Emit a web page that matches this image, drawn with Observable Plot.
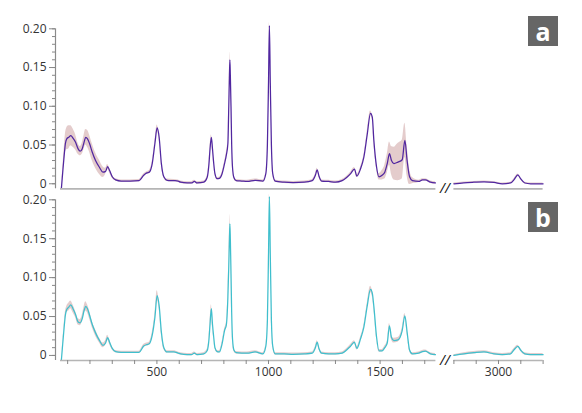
<!DOCTYPE html>
<html><head><meta charset="utf-8">
<script src="https://cdn.jsdelivr.net/npm/d3@7"></script>
<script src="https://cdn.jsdelivr.net/npm/@observablehq/plot@0.6"></script>
<style>
body{margin:0;background:#fff;}
#wrap{position:relative;width:582px;height:413px;font-family:"Open Sans",sans-serif;}
.panel-label{position:absolute;width:30px;height:30px;background:#666;color:#fff;font:bold 25px "Open Sans",sans-serif;display:flex;align-items:center;justify-content:center;line-height:1;}
svg{display:block}
</style></head><body><div id="wrap"></div>
<script>
const wavenumber = [
72,78,84,90,96,105,114,124,135,147,
156,165,174,181,189,198,210,225,243,258,
270,279,288,300,315,340,380,420,441,455,
466,479,491,501,510,520,531,546,576,595,
606,636,655,668,680,710,725,733,738,744,
749,754,760,770,780,792,803,811,818,822,
825,827,829,832,835,839,845,855,880,905,
940,975,988,995,1000,1004,1008,1013,1019,1030,
1070,1110,1160,1196,1210,1218,1226,1238,1270,1300,
1330,1350,1368,1385,1396,1412,1427,1442,1457,1465,
1472,1484,1495,1509,1521,1532,1542,1551,1562,1580,
1599,1611,1621,1632,1645,1673,1690,1703,1726,1748,
2800,2845,2890,2935,2980,3017,3054,3069,3087,3099,
3118,3144,3200];

const meanA = [
-0.006,0.015,0.035,0.052,0.058,0.060,0.062,0.059,0.054,0.045,
0.042,0.045,0.054,0.060,0.058,0.052,0.041,0.030,0.021,0.015,
0.016,0.022,0.017,0.009,0.005,0.0035,0.0035,0.004,0.011,0.014,
0.015,0.026,0.052,0.072,0.060,0.026,0.009,0.0045,0.004,0.0035,
0.002,0.001,0.001,0.003,0.001,0.002,0.008,0.025,0.045,0.060,
0.045,0.028,0.013,0.0065,0.007,0.013,0.026,0.037,0.052,0.100,
0.140,0.160,0.140,0.100,0.050,0.020,0.008,0.004,0.0035,0.003,
0.0045,0.0035,0.013,0.050,0.130,0.204,0.130,0.050,0.013,0.0035,
0.002,0.0015,0.002,0.004,0.011,0.018,0.010,0.0035,0.003,0.002,
0.004,0.008,0.013,0.019,0.010,0.019,0.034,0.063,0.091,0.086,
0.056,0.022,0.009,0.011,0.015,0.026,0.039,0.030,0.026,0.028,
0.031,0.056,0.030,0.009,0.004,0.003,0.005,0.005,0.002,0.001,
0,0.0013,0.002,0.0025,0.0017,0,0.001,0.005,0.0115,0.0065,
0.001,0,0];

const sdA = [
0.001,0.004,0.008,0.012,0.014,0.015,0.013,0.012,0.010,0.007,
0.006,0.007,0.009,0.010,0.011,0.011,0.011,0.010,0.009,0.007,
0.004,0.003,0.003,0.002,0.0015,0.0015,0.0015,0.0015,0.0015,0.0015,
0.002,0.002,0.003,0.004,0.003,0.002,0.0015,0.0015,0.0015,0.0015,
0.0015,0.0015,0.0015,0.0015,0.0015,0.0015,0.0015,0.002,0.003,0.003,
0.003,0.002,0.0015,0.0015,0.0015,0.002,0.002,0.003,0.004,0.006,
0.008,0.010,0.008,0.006,0.004,0.002,0.0015,0.0015,0.0015,0.0015,
0.0015,0.0015,0.0015,0.003,0.004,0.004,0.004,0.003,0.0015,0.0015,
0.0015,0.0015,0.0015,0.0015,0.0015,0.002,0.0015,0.0015,0.0015,0.0015,
0.0015,0.0015,0.002,0.002,0.002,0.002,0.002,0.003,0.003,0.003,
0.003,0.002,0.004,0.006,0.009,0.012,0.015,0.018,0.021,0.024,
0.025,0.022,0.020,0.010,0.004,0.0015,0.0015,0.0015,0.0015,0.0015,
0.001,0.001,0.001,0.001,0.001,0.001,0.001,0.001,0.001,0.001,
0.001,0.001,0.001];

const meanB = [
-0.006,0.015,0.035,0.052,0.059,0.062,0.065,0.060,0.053,0.043,
0.042,0.047,0.058,0.063,0.060,0.052,0.040,0.029,0.019,0.013,
0.016,0.023,0.017,0.009,0.005,0.004,0.004,0.004,0.012,0.014,
0.015,0.026,0.049,0.077,0.064,0.030,0.010,0.0045,0.0045,0.003,
0.002,0.001,0.001,0.003,0.001,0.002,0.006,0.020,0.040,0.060,
0.040,0.025,0.010,0.005,0.0045,0.015,0.032,0.039,0.075,0.115,
0.150,0.169,0.150,0.105,0.055,0.020,0.007,0.0035,0.003,0.003,
0.0045,0.002,0.012,0.045,0.130,0.204,0.130,0.045,0.012,0.002,
0.002,0.0015,0.002,0.003,0.010,0.017,0.009,0.003,0.002,0.002,
0.003,0.007,0.012,0.017,0.009,0.021,0.036,0.063,0.085,0.080,
0.063,0.024,0.006,0.006,0.010,0.016,0.038,0.023,0.019,0.020,
0.032,0.051,0.030,0.007,0.002,0.003,0.005,0.0055,0.002,0.001,
0,0.002,0.0035,0.0045,0.002,0.001,0.002,0.007,0.0116,0.007,
0.002,0.001,0.001];

const sdB = [
0.001,0.002,0.003,0.004,0.004,0.005,0.005,0.005,0.004,0.004,
0.004,0.004,0.005,0.006,0.005,0.005,0.004,0.004,0.003,0.003,
0.003,0.003,0.003,0.002,0.0015,0.0015,0.0015,0.0015,0.002,0.002,
0.002,0.003,0.004,0.006,0.004,0.003,0.002,0.0015,0.0015,0.0015,
0.0015,0.0015,0.0015,0.0015,0.0015,0.0015,0.0015,0.002,0.004,0.005,
0.004,0.002,0.0015,0.0015,0.0015,0.002,0.002,0.003,0.005,0.008,
0.010,0.012,0.010,0.008,0.005,0.002,0.0015,0.0015,0.0015,0.0015,
0.0015,0.0015,0.0015,0.002,0.003,0.003,0.003,0.002,0.0015,0.0015,
0.0015,0.0015,0.0015,0.0015,0.0015,0.002,0.0015,0.0015,0.0015,0.0015,
0.0015,0.0015,0.002,0.002,0.002,0.002,0.002,0.003,0.004,0.004,
0.003,0.002,0.0015,0.0015,0.002,0.002,0.003,0.003,0.003,0.003,
0.003,0.003,0.002,0.0015,0.0015,0.0015,0.0015,0.0015,0.0015,0.0015,
0.001,0.0015,0.0015,0.0015,0.0015,0.0015,0.0015,0.0015,0.0015,0.0015,
0.0015,0.0015,0.0015];

const yTicks = [0, 0.05, 0.10, 0.15, 0.20];
const yTickLabels = ["0", "0.05", "0.10", "0.15", "0.20"];
const yMinorTicks = d3.range(0, 21).map(i => i / 100);
const xTicks = [100,200,300,400,500,600,700,800,900,1000,1100,1200,1300,1400,1500,1600,1700,2800,2900,3000,3100,3200];
const xLabelValues = [500, 1000, 1500, 3000];
const panelLabels = ["a", "b"];

const xDomain = [68, 1750, 2800, 3200];
const xRange = [60, 435.4, 453.4, 542.6];
const yDomain = [-0.0065, 0.2];
const axisSegments = [[xDomain[0], xDomain[1]], [xDomain[2], xDomain[3]]];

function panel({mean, sd, stroke, height, marginTop, marginBottom, showXTicks}) {
  const rows = wavenumber.map((x, i) => ({x, y: mean[i], lo: mean[i] - sd[i], hi: mean[i] + sd[i], seg: x > xDomain[1] ? 1 : 0}));
  const marks = [
    Plot.areaY(rows, {x: "x", y1: "lo", y2: "hi", z: "seg", fill: "#c99a9a", fillOpacity: 0.5, curve: "monotone-x"}),
    Plot.lineY(rows, {x: "x", y: "y", z: "seg", stroke, strokeWidth: 1.25, curve: "monotone-x"}),
    Plot.ruleY(axisSegments, {y: () => yDomain[0], x1: d => d[0], x2: d => d[1], stroke: "#b5b5b5", strokeWidth: 1.7}),
    Plot.ruleX([xDomain[0]], {y1: yDomain[0], y2: yDomain[1], dx: -5, stroke: "#8a8a8a", strokeWidth: 1.2}),
    Plot.text([(xDomain[1] + xDomain[2]) / 2], {x: d => d, y: yDomain[0], text: () => "//", fontSize: 14, fill: "#111", fontStyle: "italic"}),
    Plot.axisY(yMinorTicks, {tickSize: 3, tickFormat: () => "", dx: -5, stroke: "#888", label: null}),
    Plot.axisY(yTicks, {tickSize: 6, tickPadding: 3, tickFormat: d => yTickLabels[yTicks.indexOf(d)], dx: -5, stroke: "#888", fill: "#333", fontSize: 12, label: null})
  ];
  if (showXTicks) {
    marks.push(Plot.axisX(xTicks, {tickSize: 4, tickPadding: 3, tickFormat: d => xLabelValues.includes(d) ? String(d) : "", stroke: "#888", fill: "#333", fontSize: 12, label: null}));
  }
  return Plot.plot({
    width: 582, height, marginTop, marginBottom, marginLeft: 60, marginRight: 39.4,
    style: {fontFamily: "Open Sans, sans-serif", fontSize: "12px", color: "#333", overflow: "visible"},
    x: {type: "linear", domain: xDomain, range: xRange, axis: showXTicks ? undefined : null},
    y: {domain: yDomain},
    marks
  });
}

const wrap = document.getElementById("wrap");
wrap.append(panel({mean: meanA, sd: sdA, stroke: "#5127a0", height: 190, marginTop: 28.3, marginBottom: 1.7, showXTicks: false}));
wrap.append(panel({mean: meanB, sd: sdB, stroke: "#3fbfcd", height: 223, marginTop: 9.3, marginBottom: 53, showXTicks: true}));
const labelTops = [16, 202];
panelLabels.forEach((t, i) => {
  const d = document.createElement("div");
  d.className = "panel-label";
  d.style.left = "528px";
  d.style.top = labelTops[i] + "px";
  d.textContent = t;
  wrap.append(d);
});
</script></body></html>
